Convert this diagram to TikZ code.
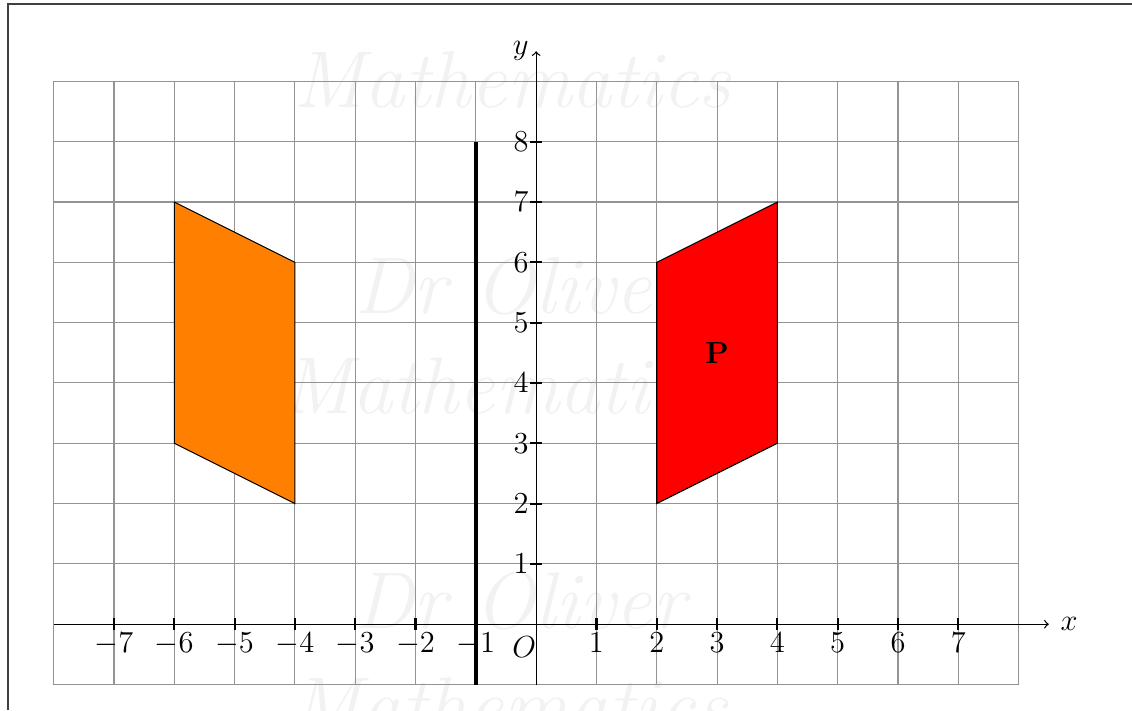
\documentclass[tikz,border=0pt]{standalone}
\begin{document}
\begin{tikzpicture}[
  >=to,
  gridline/.style={gray!85, line width=0.5pt},
  axisline/.style={black, line width=0.6pt, ->},
  tickmark/.style={black, line width=1pt},
  mirror/.style={black, line width=1.8pt},
  shapeline/.style={black, line width=0.5pt},
  wm/.style={text=black!5, font=\fontsize{38}{44}\selectfont\itshape},
  lab/.style={font=\Large, inner sep=0.333em},
  frameline/.style={black!75, line width=0.8pt}
]
\useasboundingbox (-8.89,-1.43) rectangle (9.88,10.35);
% frame
\draw[frameline] (-8.76,-1.43) -- (-8.76,10.28) -- (9.88,10.28);
% watermarks
\node[wm] (wm1) at (-0.4,9.02) {Mathematics};
\node[wm] (wm2) at (-0.27,5.6) {Dr Oliver};
\node[wm] (wm3) at (-0.6,3.95) {Mathematics};
\node[wm] (wm4) at (-0.27,0.38) {Dr Oliver};
\node[wm] (wm5) at (-0.45,-1.36) {Mathematics};
% grid
\draw[gridline] (-8,-1) grid (8,9);
% shapes
\filldraw[shapeline, fill=orange] (-6,7) -- (-4,6) -- (-4,2) -- (-6,3) -- cycle;
\filldraw[shapeline, fill=red] (2,6) -- (4,7) -- (4,3) -- (2,2) -- cycle;
\node[font=\Large\bfseries] (P) at (3,4.5) {P};
% axes
\coordinate (xs) at (-8,0);
\coordinate (xe) at (8.5,0);
\coordinate (ys) at (0,-1);
\coordinate (ye) at (0,9.5);
\draw[axisline] (xs) -- (xe);
\draw[axisline] (ys) -- (ye);
\node[lab, right, xshift=2pt] (xl) at (xe) {$x$};
\node[lab, left] (yl) at (ye) {$y$};
% mirror line
\coordinate (ms) at (-1,-1);
\coordinate (me) at (-1,8);
\draw[mirror] (ms) -- (me);
% ticks and labels
\foreach \i in {-7,...,-1,1,2,...,7}{
  \draw[tickmark] (\i,-0.1) -- (\i,0.1);
  \node[lab, below, yshift=-0.6pt] (xt\i) at (\i,0) {$\i$};
}
\foreach \j in {1,...,8}{
  \draw[tickmark] (-0.1,\j) -- (0.1,\j);
  \node[lab, left] (yt\j) at (0,\j) {$\j$};
}
\node[lab] (O) at (-0.2,-0.38) {$O$};
\end{tikzpicture}
\end{document}
